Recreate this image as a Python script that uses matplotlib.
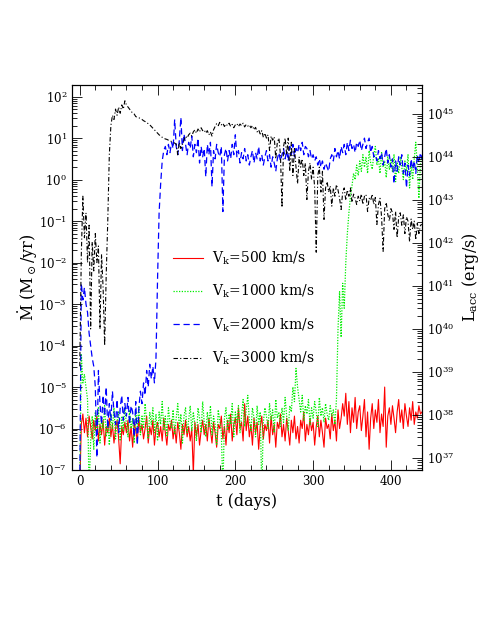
import numpy as np
import matplotlib.pyplot as plt
from matplotlib.ticker import LogLocator, LogFormatterMathtext, MultipleLocator, NullFormatter

plt.rcParams['font.family'] = ['DejaVu Serif']
plt.rcParams['mathtext.fontset'] = 'dejavuserif'

# log10 of Mdot (Msun/yr), sampled every 2 days from t=0 to t=440, read off the figure
# (one row = 20 days)
logm_500 = [
    -7.5, -5.9, -5.65, -6.1, -5.75, -6.2, -5.7, -5.95, -6.25, -5.8,
    -6.05, -5.7, -6.3, -5.9, -6.15, -5.8, -6.4, -5.95, -6.1, -5.75,
    -6.2, -5.9, -6.35, -6.0, -5.8, -6.25, -6.85, -5.95, -6.15, -5.85,
    -6.1, -5.8, -6.3, -5.95, -6.45, -5.85, -6.05, -6.3, -5.75, -6.1,
    -5.9, -6.25, -6.0, -5.7, -6.35, -5.95, -6.15, -5.8, -6.4, -6.0,
    -5.85, -6.2, -5.95, -6.3, -5.75, -6.1, -6.4, -5.9, -6.05, -5.8,
    -6.25, -5.95, -6.35, -5.85, -6.1, -6.5, -5.9, -6.15, -5.8, -6.2,
    -5.95, -6.3, -6.0, -7.1, -5.85, -6.2, -5.9, -6.4, -6.05, -5.8,
    -6.15, -5.9, -6.3, -5.75, -6.05, -6.35, -5.85, -6.1, -6.45, -5.9,
    -6.0, -5.7, -6.25, -5.95, -6.4, -5.8, -6.1, -5.65, -6.3, -5.9,
    -5.75, -6.15, -5.5, -6.0, -5.85, -6.3, -5.4, -6.05, -5.7, -6.2,
    -5.9, -6.4, -5.75, -6.1, -5.85, -6.5, -5.95, -5.7, -6.25, -5.9,
    -6.05, -5.8, -6.35, -5.7, -6.15, -5.9, -6.45, -5.85, -6.0, -5.65,
    -6.2, -5.9, -6.3, -5.75, -6.05, -6.4, -5.8, -6.1, -5.7, -6.25,
    -5.95, -6.35, -5.8, -6.0, -5.6, -6.3, -5.9, -6.15, -5.75, -6.05,
    -5.85, -6.4, -5.95, -5.7, -6.2, -5.8, -6.1, -6.45, -5.75, -6.0,
    -5.9, -6.25, -5.65, -6.05, -5.8, -6.3, -5.55, -6.0, -5.75, -5.4,
    -5.7, -5.15, -5.9, -5.35, -6.1, -5.5, -5.85, -5.25, -6.0, -5.6,
    -5.45, -6.05, -5.7, -5.3, -6.2, -5.6, -6.5, -5.75, -5.4, -6.0,
    -5.55, -5.85, -5.3, -6.1, -5.65, -5.95, -5.0, -6.45, -5.7, -5.5,
    -5.9, -5.45, -5.75, -6.1, -5.6, -5.3, -5.85, -5.55, -6.0, -5.4,
    -5.7, -5.95, -5.5, -5.8, -5.35, -5.9, -5.6, -5.75, -5.45, -5.65,
    -5.6,
]

logm_1000 = [
    -7.5, -4.2, -4.9, -4.7, -5.0, -5.3, -7.5, -6.3, -5.7, -6.5,
    -5.6, -6.1, -5.5, -6.35, -5.75, -6.0, -5.45, -6.2, -5.8, -6.4,
    -5.65, -6.0, -5.5, -6.25, -5.85, -5.6, -6.3, -5.7, -6.05, -5.5,
    -5.9, -6.2, -5.55, -6.0, -5.75, -6.35, -5.6, -5.95, -5.45, -6.15,
    -5.7, -6.0, -5.4, -5.85, -6.25, -5.6, -5.9, -5.5, -6.1, -5.65,
    -6.3, -5.6, -5.9, -5.35, -6.05, -5.7, -6.2, -5.5, -5.85, -6.0,
    -5.55, -6.15, -5.75, -5.4, -6.0, -5.65, -6.35, -5.7, -5.5, -6.1,
    -5.8, -5.45, -6.05, -5.6, -5.9, -6.3, -5.5, -5.75, -6.1, -5.35,
    -5.85, -6.2, -5.6, -5.95, -5.45, -6.15, -5.7, -5.9, -6.4, -5.55,
    -5.8, -6.1, -7.5, -5.75, -5.5, -6.05, -5.65, -5.9, -5.4, -6.2,
    -5.6, -5.85, -5.45, -6.1, -5.7, -5.3, -5.95, -5.55, -5.2, -5.8,
    -6.05, -5.5, -5.75, -6.2, -5.45, -5.9, -5.6, -7.5, -5.85, -5.5,
    -5.7, -6.0, -5.4, -5.8, -5.55, -6.1, -5.3, -5.75, -5.6, -5.95,
    -5.5, -5.85, -5.25, -5.7, -6.05, -5.45, -5.6, -5.0, -5.35, -4.55,
    -5.0, -5.3, -5.6, -5.2, -5.8, -5.45, -5.65, -5.3, -5.9, -5.5,
    -5.75, -5.35, -5.6, -5.95, -5.25, -5.7, -5.5, -5.85, -5.4, -5.65,
    -5.8, -5.45, -5.7, -5.55, -5.9, -5.3, -3.6, -2.7, -3.8, -2.5,
    -3.1, -2.0, -1.3, -0.8, -0.4, -0.15, 0.15, 0.0, 0.35, 0.1,
    0.45, 0.2, 0.6, 0.3, 0.55, 0.15, 0.7, 0.4, 0.25, 0.6,
    0.8, 0.35, 0.5, 0.15, 0.65, 0.3, 0.45, 0.05, 0.55, 0.25,
    0.5, 0.2, 0.6, -0.05, 0.4, 0.15, 0.55, 0.3, 0.0, 0.45,
    0.2, 0.6, -0.2, 0.35, 0.0, 0.5, 0.9, 0.3, -0.45, 0.4,
    0.55,
]

logm_2000 = [
    -7.5, -2.5, -2.9, -2.6, -3.0, -3.2, -3.7, -4.0, -4.3, -4.5,
    -5.0, -6.7, -4.6, -5.4, -5.9, -5.2, -5.7, -5.0, -6.0, -5.4,
    -5.8, -5.1, -5.6, -5.9, -5.3, -6.1, -5.5, -5.2, -5.8, -5.4,
    -5.7, -5.25, -5.9, -5.45, -5.6, -6.2, -5.35, -6.4, -5.5, -5.1,
    -5.4, -4.9, -5.2, -4.6, -5.0, -4.45, -4.8, -4.5, -4.9, -4.3,
    -2.4, -0.8, -0.1, 0.45, 0.7, 0.8, 0.6, 0.85, 0.65, 0.9,
    0.75, 1.45, 0.8, 0.6, 0.95, 1.5, 0.7, 1.1, 0.85, 0.6,
    0.9, 0.75, 1.05, 0.55, 0.85, 0.65, 1.0, 0.4, 0.8, 0.55,
    0.75, 0.07, 0.85, 0.6, 0.9, -0.17, 0.7, 0.5, 0.85, 0.65,
    0.55, 0.8, -0.77, 0.6, 0.75, 0.45, 0.7, 0.5, 0.85, 0.6,
    1.08, 0.55, 0.7, 0.4, 0.65, 0.5, 0.75, 0.45, 0.6, 0.35,
    0.55, 0.7, 0.4, 0.65, 0.5, 0.8, 0.45, 0.6, 0.35, 0.55,
    0.7, 0.45, 0.6, 0.3, 0.55, 0.4, 0.2, 0.5, 0.65, 0.45,
    0.6, 0.75, 0.5, 0.7, 0.45, 0.8, 0.6, 0.85, 0.55, 0.75,
    0.65, 0.85, 0.7, 0.9, 0.6, 0.8, 0.75, 0.55, 0.7, 0.5,
    0.6, 0.45, 0.55, 0.35, 0.5, 0.3, 0.45, 0.25, 0.4, 0.3,
    0.2, 0.5, 0.6, 0.45, 0.75, 0.55, 0.7, 0.5, 0.8, 0.65,
    0.85, 0.6, 0.9, 0.7, 0.95, 0.75, 0.85, 0.65, 0.9, 0.8,
    0.95, 0.7, 0.85, 1.0, 0.75, 0.9, 1.0, 0.65, 0.8, 0.55,
    0.6, 0.45, 0.7, 0.5, 0.65, 0.35, 0.55, 0.75, 0.4, 0.6,
    0.3, 0.5, -0.1, 0.45, 0.2, 0.55, 0.35, 0.6, 0.15, 0.4,
    -0.2, 0.35, 0.1, 0.5, 0.25, 0.45, 0.15, 0.6, 0.4, 0.65,
    0.5,
]

logm_3000 = [
    -4.5, -1.8, -0.4, -1.4, -0.8, -2.0, -1.1, -3.6, -1.5, -2.2,
    -1.3, -2.0, -1.6, -3.6, -1.8, -2.6, -4.0, -2.3, -1.0, 0.6,
    1.3, 1.55, 1.45, 1.7, 1.55, 1.75, 1.6, 1.8, 1.7, 1.9,
    1.8, 1.75, 1.7, 1.65, 1.6, 1.58, 1.52, 1.5, 1.49, 1.47,
    1.45, 1.42, 1.4, 1.37, 1.35, 1.32, 1.28, 1.24, 1.2, 1.16,
    1.12, 1.08, 1.05, 1.02, 1.0, 0.98, 0.97, 0.95, 0.93, 0.92,
    0.9, 0.88, 0.85, 0.6, 0.9, 0.75, 0.85, 0.95, 1.05, 1.0,
    1.08, 1.12, 1.05, 1.15, 1.2, 1.12, 1.22, 1.15, 1.25, 1.18,
    1.2, 1.12, 1.18, 1.08, 1.15, 1.05, 1.2, 1.28, 1.35, 1.3,
    1.38, 1.32, 1.36, 1.28, 1.34, 1.3, 1.36, 1.28, 1.33, 1.25,
    1.32, 1.35, 1.28, 1.34, 1.3, 1.36, 1.27, 1.33, 1.29, 1.32,
    1.25, 1.3, 1.2, 1.26, 1.15, 1.2, 1.1, 1.18, 1.02, 1.12,
    1.0, 1.08, 0.7, 1.05, 0.95, 1.03, 0.5, 0.9, 1.0, 0.6,
    -0.67, 0.8, 1.0, 0.6, 1.0, 0.2, 0.9, 0.1, 0.75, 0.3,
    -0.1, 0.55, 0.3, 0.5, 0.1, 0.4, -0.48, 0.2, 0.4, 0.0,
    0.3, -0.2, -1.75, 0.1, 0.3, -0.3, 0.2, -0.96, -0.2, -0.05,
    -0.3, -0.15, -0.64, -0.2, -0.4, -0.12, -0.25, -0.45, -0.72, -0.3,
    -0.2, -0.5, -0.25, -0.4, -0.2, -0.55, -0.35, -0.45, -0.6, -0.4,
    -0.52, -0.35, -0.6, -0.4, -0.36, -0.77, -0.45, -0.5, -0.35, -0.6,
    -0.43, -1.08, -0.6, -0.45, -0.9, -1.73, -0.7, -0.55, -0.84, -1.0,
    -0.7, -0.8, -1.2, -0.77, -1.4, -0.9, -0.8, -1.1, -0.85, -1.3,
    -0.9, -1.0, -1.5, -0.95, -1.2, -1.0, -1.45, -1.05, -1.3, -1.1,
    -1.08,
]

labels = ['V$_{\\rm k}$=500 km/s', 'V$_{\\rm k}$=1000 km/s',
          'V$_{\\rm k}$=2000 km/s', 'V$_{\\rm k}$=3000 km/s']

#axis ranges (log10)
mdot_lim = (-7.0, 2.28)
lacc_lim = (36.72, 45.67)


def days(vals):
    return np.linspace(0, 440, len(vals))


fig = plt.figure(figsize=(4.91, 6.35), dpi=100)
ax = fig.add_axes([0.1466, 0.2598, 0.7129, 0.6063])

ax.plot(days(logm_500), 10**np.array(logm_500), color='red', lw=0.8, ls='-', label=labels[0])
ax.plot(days(logm_1000), 10**np.array(logm_1000), color='#00ee00', lw=0.9, ls=(0, (1, 1.2)), label=labels[1])
ax.plot(days(logm_2000), 10**np.array(logm_2000), color='blue', lw=0.9, ls=(0, (5, 3)), label=labels[2])
ax.plot(days(logm_3000), 10**np.array(logm_3000), color='black', lw=0.8, ls=(0, (4, 2, 1, 2)), label=labels[3])

ax.set_yscale('log')
ax.set_xlim(-10, 440)
ax.set_ylim(10**mdot_lim[0], 10**mdot_lim[1])
ax.xaxis.set_major_locator(MultipleLocator(100))
ax.xaxis.set_minor_locator(MultipleLocator(20))
ax.yaxis.set_major_locator(LogLocator(base=10, numticks=20))
ax.yaxis.set_minor_locator(LogLocator(base=10, subs=np.arange(2, 10), numticks=20))
ax.yaxis.set_major_formatter(LogFormatterMathtext())
ax.yaxis.set_minor_formatter(NullFormatter())
ax.tick_params(which='both', direction='in', top=True, right=False, labelsize=8.5, width=0.6)
ax.tick_params(which='major', length=7)
ax.tick_params(which='minor', length=3.5)
for s in ax.spines.values():
    s.set_linewidth(0.8)

ax.set_xlabel('t (days)', fontsize=11.5, labelpad=4)
ax.set_ylabel(r'$\dot{\rm M}$ (M$_\odot$/yr)', fontsize=11.5, labelpad=-1)

#right axis: accretion luminosity
ax2 = ax.twinx()
ax2.set_yscale('log')
ax2.set_ylim(10**lacc_lim[0], 10**lacc_lim[1])
ax2.yaxis.set_major_locator(LogLocator(base=10, numticks=20))
ax2.yaxis.set_minor_locator(LogLocator(base=10, subs=np.arange(2, 10), numticks=20))
ax2.yaxis.set_major_formatter(LogFormatterMathtext())
ax2.yaxis.set_minor_formatter(NullFormatter())
ax2.tick_params(which='both', direction='in', labelsize=8.5, width=0.6)
ax2.tick_params(which='major', length=7)
ax2.tick_params(which='minor', length=3.5)
ax2.set_ylabel(r'L$_{\rm acc}$ (erg/s)', fontsize=11.5, labelpad=4)

ax.legend(loc='center left', bbox_to_anchor=(0.289, 0.42), frameon=False,
          fontsize=10, handlelength=2.15, handletextpad=0.65, labelspacing=1.15,
          borderpad=0, borderaxespad=0)

fig.savefig('out.png', dpi=100)
